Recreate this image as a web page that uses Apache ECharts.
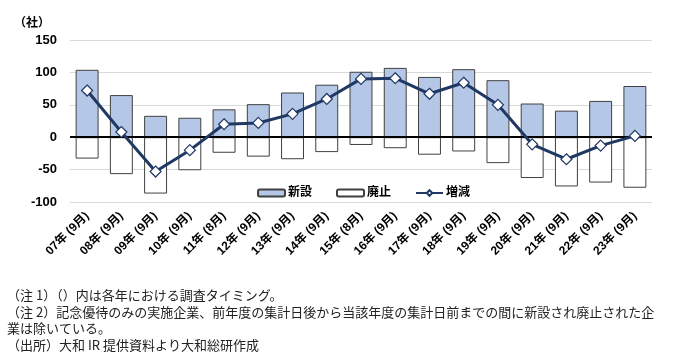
<!DOCTYPE html>
<html><head><meta charset="utf-8">
<script src="https://cdn.jsdelivr.net/npm/echarts@6/dist/echarts.min.js"></script>
<style>html,body{margin:0;padding:0;background:#fff}#c{width:677px;height:362px}</style>
</head><body><div id="c"></div>
<script>
const categories = ['07年 (9月)','08年 (9月)','09年 (9月)','10年 (9月)','11年 (8月)','12年 (9月)','13年 (9月)','14年 (9月)','15年 (8月)','16年 (9月)','17年 (9月)','18年 (9月)','19年 (9月)','20年 (9月)','21年 (9月)','22年 (9月)','23年 (9月)'];
const newCos = [104, 65, 33, 30, 43, 51, 69, 81, 101, 107, 93, 105, 88, 52, 41, 56, 79];
const abolished = [-33, -57, -87, -51, -24, -30, -34, -23, -12, -17, -27, -22, -40, -63, -76, -70, -78];
const netChange = [72, 8, -53, -20, 20, 22, 36, 59, 90, 91, 67, 84, 50, -11, -34, -13, 2];
const yTicks = {min: -100, max: 150, interval: 50};
const unitLabel = '（社）';
const notes = [
  '（注 1）（）内は各年における調査タイミング。',
  '（注 2）記念優待のみの実施企業、前年度の集計日後から当該年度の集計日前までの間に新設され廃止された企',
  '業は除いている。',
  '（出所）大和 IR 提供資料より大和総研作成'
];

const FONT = '"Liberation Sans", "Noto Sans CJK JP", sans-serif';
const NOTE_FONT = '13px "Noto Sans CJK JP", sans-serif';
const chart = echarts.init(document.getElementById('c'), null, {renderer: 'canvas'});
chart.setOption({
  animation: false,
  textStyle: {fontFamily: FONT},
  grid: {left: 70, right: 25, top: 40, bottom: 160, containLabel: false},
  legend: {
    left: 252, top: 182, itemWidth: 27, itemHeight: 7, itemGap: 24,
    textStyle: {fontSize: 12, fontWeight: 'bold', color: '#000', fontFamily: FONT, padding: [0,0,0,-2]},
    data: [
      {name: '新設'},
      {name: '廃止'},
      {name: '増減'}
    ]
  },
  xAxis: {
    type: 'category', data: categories,
    axisLine: {show: false}, axisTick: {show: false},
    axisLabel: {interval: 0, rotate: 45, margin: 12, fontSize: 12, fontWeight: 'bold', color: '#000', fontFamily: FONT}
  },
  yAxis: {
    type: 'value', min: yTicks.min, max: yTicks.max, interval: yTicks.interval,
    axisLine: {show: false}, axisTick: {show: false},
    axisLabel: {margin: 13, fontSize: 13, fontWeight: 'bold', color: '#000', fontFamily: FONT},
    splitLine: {lineStyle: {color: '#d9d9d9', width: 1}}
  },
  series: [
    {name: '新設', type: 'bar', data: newCos, barWidth: '67%', barGap: '-100%',
     itemStyle: {color: '#b4c7e7', borderColor: '#404040', borderWidth: 1},
     markLine: {silent: true, symbol: 'none', label: {show: false},
       lineStyle: {color: '#000', width: 2, type: 'solid'}, data: [{yAxis: 0}]}
    },
    {name: '廃止', type: 'bar', data: abolished, barWidth: '67%', barGap: '-100%',
     itemStyle: {color: '#ffffff', borderColor: '#404040', borderWidth: 1}},
    {name: '増減', type: 'line', data: netChange, z: 5,
     lineStyle: {color: '#203864', width: 3},
     symbol: 'diamond', symbolSize: 11,
     itemStyle: {color: '#ffffff', borderColor: '#203864', borderWidth: 1.2}}
  ],
  graphic: [
    {type: 'text', left: 14, top: 16, style: {text: unitLabel, font: 'bold 12px "Noto Sans CJK JP", sans-serif', fill: '#000'}},
    {type: 'text', left: 7, top: 289, style: {text: notes[0], font: NOTE_FONT, fill: '#222'}},
    {type: 'text', left: 7, top: 306, style: {text: notes[1], font: NOTE_FONT, fill: '#222'}},
    {type: 'text', left: 7, top: 322, style: {text: notes[2], font: NOTE_FONT, fill: '#222'}},
    {type: 'text', left: 7, top: 339, style: {text: notes[3], font: NOTE_FONT, fill: '#222'}}
  ]
});
</script></body></html>
